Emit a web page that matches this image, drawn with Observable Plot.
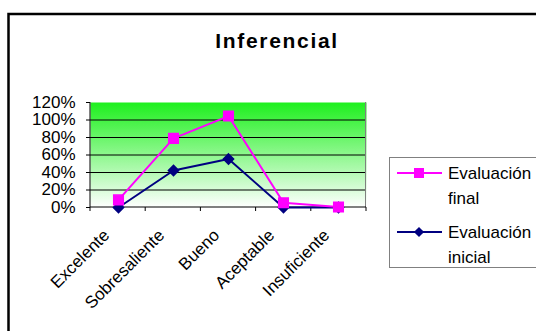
<!DOCTYPE html>
<html><head><meta charset="utf-8">
<script src="https://cdn.jsdelivr.net/npm/d3@7"></script>
<script src="https://cdn.jsdelivr.net/npm/@observablehq/plot@0.6"></script>
<style>
body{margin:0;background:#fff}
#chart{position:relative;width:536px;height:331px;overflow:hidden}
</style>
</head><body><div id="chart"></div>
<script>
const title = "Inferencial";
const categories = ["Excelente", "Sobresaliente", "Bueno", "Aceptable", "Insuficiente"];
const finalValues = [0.087, 0.79, 1.045, 0.055, 0.005];
const initialValues = [0, 0.423, 0.554, 0, 0];
const seriesNames = [["Evaluación", "final"], ["Evaluación", "inicial"]];
const yTicks = [0, 0.2, 0.4, 0.6, 0.8, 1.0, 1.2];
const gridTicks = [0.2, 0.4, 0.6, 0.8, 1.0];

const FONT = "'Liberation Sans', Arial, sans-serif";
const finalData = categories.map((c, i) => ({cat: c, v: finalValues[i]}));
const initialData = categories.map((c, i) => ({cat: c, v: initialValues[i]}));

const plot = Plot.plot({
  width: 536, height: 331,
  marginLeft: 90, marginRight: 170, marginTop: 102, marginBottom: 124,
  style: {fontFamily: FONT, fontSize: "17px", color: "#000", background: "#fff", overflow: "visible"},
  x: {type: "point", domain: categories, padding: 0.5},
  y: {domain: [0, 1.2]},
  marks: [
    Plot.frame({fill: "#fff"}),
    Plot.gridY(gridTicks, {stroke: "#000", strokeOpacity: 1, strokeWidth: 1}),
    Plot.axisY(yTicks, {tickFormat: d => Math.round(d * 100) + "%", tickSize: 4, tickPadding: 11, label: null, stroke: "#000"}),
    Plot.axisX({tickSize: 0, tickRotate: -45, tickPadding: 12, dx: -12, dy: 13, label: null, letterSpacing: 0.3}),
    Plot.line(initialData, {x: "cat", y: "v", stroke: "#000080", strokeWidth: 2}),
    Plot.dot(initialData, {x: "cat", y: "v", symbol: "diamond2", r: 4.6, fill: "#000080", stroke: "#000080"}),
    Plot.line(finalData, {x: "cat", y: "v", stroke: "#ff00ff", strokeWidth: 2}),
    Plot.dot(finalData, {x: "cat", y: "v", symbol: "square", r: 5.4, fill: "#ff00ff", stroke: "#ff00ff"})
  ]
});

const svg = d3.select(plot);
const xs = plot.scale("x"), ys = plot.scale("y");
const [x0, x1] = xs.range;
const [yb, yt] = ys.range;
const step = (x1 - x0) / categories.length;

const defs = svg.insert("defs", ":first-child");
const g = defs.append("linearGradient").attr("id", "bg").attr("x1", 0).attr("y1", 0).attr("x2", 0).attr("y2", 1);
g.append("stop").attr("offset", "0%").attr("stop-color", "#1ef01e");
g.append("stop").attr("offset", "100%").attr("stop-color", "#ffffff");
svg.selectAll('[aria-label="frame"]').each(function () {
  d3.select(this).attr("fill", "url(#bg)").style("fill", "url(#bg)");
  d3.select(this).selectAll("rect").attr("fill", "url(#bg)").style("fill", "url(#bg)");
});

const deco = svg.append("g");
deco.append("line").attr("x1", x1 - 0.5).attr("x2", x1 - 0.5).attr("y1", yt).attr("y2", yb).attr("stroke", "#808080");
deco.append("line").attr("x1", x0).attr("x2", x0).attr("y1", yt).attr("y2", yb).attr("stroke", "#000");
deco.append("line").attr("x1", x0).attr("x2", x1).attr("y1", yb).attr("y2", yb).attr("stroke", "#000");
for (let i = 0; i <= categories.length; i++) {
  const xx = x0 + i * step;
  deco.append("line").attr("x1", xx).attr("x2", xx).attr("y1", yb).attr("y2", yb + 4).attr("stroke", "#000");
}
svg.selectAll('g[aria-label="line"], g[aria-label="dot"]').raise();

svg.append("path").attr("d", "M8.5,331 V14 H536").attr("fill", "none").attr("stroke", "#000").attr("stroke-width", 2.5);

svg.append("text").attr("x", 277).attr("y", 48).attr("text-anchor", "middle")
  .attr("font-family", FONT).attr("font-weight", "bold").attr("font-size", 21).attr("letter-spacing", 1.7)
  .attr("fill", "#000").text(title);

const lg = svg.append("g").attr("font-family", FONT).attr("font-size", 17).attr("fill", "#000").attr("text-anchor", "start");
lg.append("rect").attr("x", 389.5).attr("y", 157.5).attr("width", 200).attr("height", 110).attr("fill", "#fff").attr("stroke", "#808080");
const items = [
  {y: 173, color: "#ff00ff", sym: d3.symbolSquare, size: 100},
  {y: 232, color: "#000080", sym: d3.symbolDiamond2, size: 66}
];
items.forEach((it, i) => {
  lg.append("line").attr("x1", 397).attr("x2", 442).attr("y1", it.y).attr("y2", it.y).attr("stroke", it.color).attr("stroke-width", 2);
  lg.append("path").attr("transform", `translate(419,${it.y})`).attr("d", d3.symbol(it.sym, it.size)()).attr("fill", it.color);
  lg.append("text").attr("x", 448).attr("y", it.y + 6).text(seriesNames[i][0]);
  lg.append("text").attr("x", 448).attr("y", it.y + 31).text(seriesNames[i][1]);
});

document.getElementById("chart").append(plot);
</script>
</body></html>
